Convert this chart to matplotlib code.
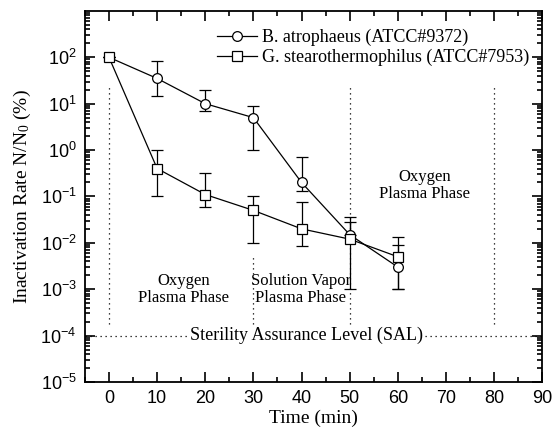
import numpy as np
import matplotlib
matplotlib.use('Agg')
import matplotlib.pyplot as plt
from matplotlib.ticker import FixedLocator, LogLocator, MultipleLocator, NullFormatter

# ── data ──────────────────────────────────────────────────────────────────────
time = [0, 10, 20, 30, 40, 50, 60]

ba_label = 'B. atrophaeus (ATCC#9372)'
ba_val = [100, 35, 10, 5, 0.2, 0.015, 0.003]
ba_lo  = [100, 15, 7, 1, 0.13, 0.024, 0.001]
ba_hi  = [100, 85, 20, 9, 0.7, 0.036, 0.009]

gs_label = 'G. stearothermophilus (ATCC#7953)'
gs_val = [100, 0.4, 0.11, 0.05, 0.02, 0.012, 0.005]
gs_lo  = [100, 0.1, 0.058, 0.01, 0.0085, 0.001, 0.001]
gs_hi  = [100, 1.0, 0.32, 0.1, 0.074, 0.028, 0.0134]

phase_x   = [0, 30, 50, 80]
phase_top = [25, 5e-3, 25, 25]
phase_bot = 1.8e-4

sal_level = 1e-4
yticks = [1e-5, 1e-4, 1e-3, 1e-2, 1e-1, 1e0, 1e1, 1e2]
ytick_labels = [r'$\mathregular{10^{%d}}$' % e for e in range(-5, 3)]

SERIF = 'Liberation Serif'
plt.rcParams['font.family'] = 'Liberation Sans'
plt.rcParams['mathtext.fontset'] = 'custom'

fig = plt.figure(figsize=(5.55, 4.37), dpi=100)
ax = fig.add_axes([0.153, 0.126, 0.824, 0.849])


def _err(val, lo, hi):
    v = np.asarray(val, float)
    return [np.clip(v - np.asarray(lo), 0, None), np.clip(np.asarray(hi) - v, 0, None)]


ba = ax.errorbar(time, ba_val, yerr=_err(ba_val, ba_lo, ba_hi), color='black', lw=0.9,
                 marker='o', ms=7, mfc='white', mec='black', mew=0.9,
                 capsize=4, elinewidth=0.9, capthick=0.9, zorder=3)
gs = ax.errorbar(time, gs_val, yerr=_err(gs_val, gs_lo, gs_hi), color='black', lw=0.9,
                 marker='s', ms=6.5, mfc='white', mec='black', mew=0.9,
                 capsize=4, elinewidth=0.9, capthick=0.9, zorder=3)

# phase separators
for x, top in zip(phase_x, phase_top):
    ax.plot([x, x], [phase_bot, top], color='black', lw=0.9, ls=(0, (1, 3)), zorder=1)

# sterility assurance level
ax.axhline(sal_level, color='black', lw=0.9, ls=(0, (1, 3)), zorder=1)
ax.text(41, sal_level, 'Sterility Assurance Level (SAL)', family=SERIF, fontsize=13,
        ha='center', va='center', zorder=2,
        bbox=dict(facecolor='white', edgecolor='none', pad=1.5))

ax.text(15.5, 1.0e-3, 'Oxygen\nPlasma Phase', family=SERIF, fontsize=12,
        ha='center', va='center', linespacing=1.1)
ax.text(39.8, 1.0e-3, 'Solution Vapor\nPlasma Phase', family=SERIF, fontsize=12,
        ha='center', va='center', linespacing=1.1)
ax.text(65.5, 0.17, 'Oxygen\nPlasma Phase', family=SERIF, fontsize=12,
        ha='center', va='center', linespacing=1.1)

ax.set_yscale('log')
ax.set_xlim(-5, 90)
ax.set_ylim(1e-5, 1e3)
ax.xaxis.set_major_locator(MultipleLocator(10))
ax.xaxis.set_minor_locator(MultipleLocator(5))
ax.yaxis.set_major_locator(FixedLocator(yticks))
ax.set_yticklabels(ytick_labels)
ax.yaxis.set_minor_locator(LogLocator(base=10, subs=np.arange(2, 10), numticks=20))
ax.yaxis.set_minor_formatter(NullFormatter())
ax.tick_params(which='both', direction='in', top=True, right=True, labelsize=13, width=1.2)
ax.tick_params(which='major', length=7, pad=6)
ax.tick_params(which='minor', length=3.5)
for sp in ax.spines.values():
    sp.set_linewidth(1.3)

ax.set_xlabel('Time (min)', family=SERIF, fontsize=14, labelpad=2)
ax.set_ylabel(r'Inactivation Rate N/N$\mathregular{_0}$ (%)', family=SERIF, fontsize=14,
              labelpad=5)

# legend shows plain line + marker (no error bar glyph)
ax.legend([ba.lines[0], gs.lines[0]], [ba_label, gs_label], loc='upper right',
          frameon=False, prop={'family': SERIF, 'size': 13},
          handlelength=2.2, handletextpad=0.3, borderaxespad=0.3,
          labelspacing=0.15, bbox_to_anchor=(1.0, 0.985))

fig.savefig('out.png', dpi=100)
